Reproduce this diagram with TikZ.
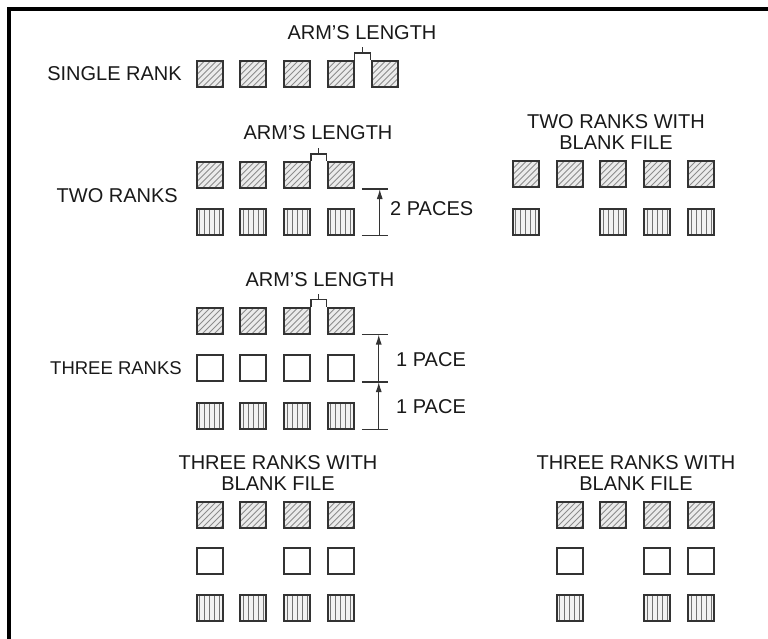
\documentclass[tikz,border=0pt]{standalone}
\usepackage{fontspec}
\setmainfont{Liberation Sans}
\usetikzlibrary{arrows.meta,calc}
\tikzset{
 lbl/.style={font=\fontsize{20}{21}\selectfont, inner sep=0pt, text=black!90, align=center},
 sq/.style={draw=black!80, line width=2pt, minimum size=26pt, inner sep=0pt},
 diag/.style={sq, fill=black!8, path picture={\foreach \i in {-36,-30,...,36}{\draw[black!45,line width=0.8pt] ([xshift=\i pt]path picture bounding box.center) ++(-18,18) -- ++(36,-36);}}},
 vert/.style={sq, fill=black!5, path picture={\foreach \i in {-10,-5,...,10}{\draw[black!55,line width=0.9pt] ([xshift=\i pt]path picture bounding box.north) -- ([xshift=\i pt]path picture bounding box.south);}}},
 plain/.style={sq, fill=white},
 dim/.style={draw=black!80, line width=1.1pt},
 arr/.style={dim, -{Latex[length=10pt,width=6pt]}},
}
\begin{document}
\begin{tikzpicture}[x=1pt,y=-1pt]
\useasboundingbox (0,0) rectangle (768,638);
\clip (0,0) rectangle (768,638);
\fill[white] (0,0) rectangle (768,638);
\draw[line width=4pt] (9,650) -- (9,9) -- (780,9);

% ---- single rank
\node[lbl, anchor=east] (lsingle) at (182,74) {SINGLE RANK};
\foreach \c [count=\k] in {209.5,253.25,297,340.75,384.5} \node[diag] (s\k) at (\c,74) {};
\draw[dim] (s4.north east) -- ++(0,-7) -| (s5.north west);
\coordinate (m1) at ($(s4.north east)!0.5!(s5.north west)+(0,-7)$);
\draw[dim] (m1) -- ++(0,-6);
\node[lbl] (arm1) at (362,33) {ARM'S LENGTH};

% ---- two ranks
\node[lbl, anchor=east] (ltwo) at (178,196) {TWO RANKS};
\foreach \c [count=\k] in {209.5,253.25,297,340.75} {
  \node[diag] (t\k) at (\c,175) {};
  \node[vert] (u\k) at (\c,221.5) {};
}
\draw[dim] (t3.north east) -- ++(0,-7) -| (t4.north west);
\coordinate (m2) at ($(t3.north east)!0.5!(t4.north west)+(0,-7)$);
\draw[dim] (m2) -- ++(0,-6);
\node[lbl] (arm2) at (318,133) {ARM'S LENGTH};
\coordinate (d2t) at ($(t4.south east)+(7,0)$);
\coordinate (d2b) at ($(u4.south east)+(7,0)$);
\draw[dim] (d2t) -- ++(26,0);
\draw[dim] (d2b) -- ++(26,0);
\draw[arr] ($(d2b)+(18,0)$) -- ($(d2t)+(18,0)$);
\node[lbl, anchor=west] (paces2) at (390,209) {2 PACES};

% ---- two ranks with blank file
\node[lbl] (ltwob) at (616,132.5) {TWO RANKS WITH\\BLANK FILE};
\foreach \c [count=\k] in {525.5,569.5,613.25,657,701} \node[diag] (v\k) at (\c,174) {};
\foreach \c/\k in {525.5/1,613.25/3,657/4,701/5} \node[vert] (w\k) at (\c,221.5) {};

% ---- three ranks
\node[lbl, anchor=east, font=\fontsize{18.5}{21}\selectfont] (lthree) at (182,368) {THREE RANKS};
\foreach \c [count=\k] in {209.5,253.25,297,340.75} {
  \node[diag] (x\k) at (\c,320.5) {};
  \node[plain] (y\k) at (\c,368) {};
  \node[vert] (z\k) at (\c,415.5) {};
}
\draw[dim] (x3.north east) -- ++(0,-7) -| (x4.north west);
\coordinate (m3) at ($(x3.north east)!0.5!(x4.north west)+(0,-7)$);
\draw[dim] (m3) -- ++(0,-6);
\node[lbl] (arm3) at (320,280) {ARM'S LENGTH};
\coordinate (d3t) at ($(x4.south east)+(7,0)$);
\coordinate (d3m) at ($(y4.south east)+(7,0)$);
\coordinate (d3b) at ($(z4.south east)+(7,0)$);
\draw[dim] (d3t) -- ++(26,0);
\draw[dim] (d3m) -- ++(26,0);
\draw[dim] (d3b) -- ++(26,0);
\draw[arr] ($(d3m)+(17,0)$) -- ($(d3t)+(17,0)$);
\draw[arr] ($(d3b)+(17,0)$) -- ($(d3m)+(17,0)$);
\node[lbl, anchor=west] (pace1) at (396,360) {1 PACE};
\node[lbl, anchor=west] (pace2) at (396,407) {1 PACE};

% ---- three ranks with blank file (left)
\node[lbl] (lthb1) at (278,473) {THREE RANKS WITH\\BLANK FILE};
\foreach \c [count=\k] in {209.5,253.25,297,340.75} {
  \node[diag] (ea\k) at (\c,514.5) {};
  \node[vert] (ec\k) at (\c,608) {};
}
\foreach \c/\k in {209.5/1,297/3,340.75/4} \node[plain] (eb\k) at (\c,561) {};

% ---- three ranks with blank file (right)
\node[lbl] (lthb2) at (636,473) {THREE RANKS WITH\\BLANK FILE};
\foreach \c [count=\k] in {569.5,613.25,657,701} \node[diag] (fa\k) at (\c,514.5) {};
\foreach \c/\k in {569.5/1,657/3,701/4} {
  \node[plain] (fb\k) at (\c,561) {};
  \node[vert] (fc\k) at (\c,608) {};
}
\end{tikzpicture}
\end{document}
